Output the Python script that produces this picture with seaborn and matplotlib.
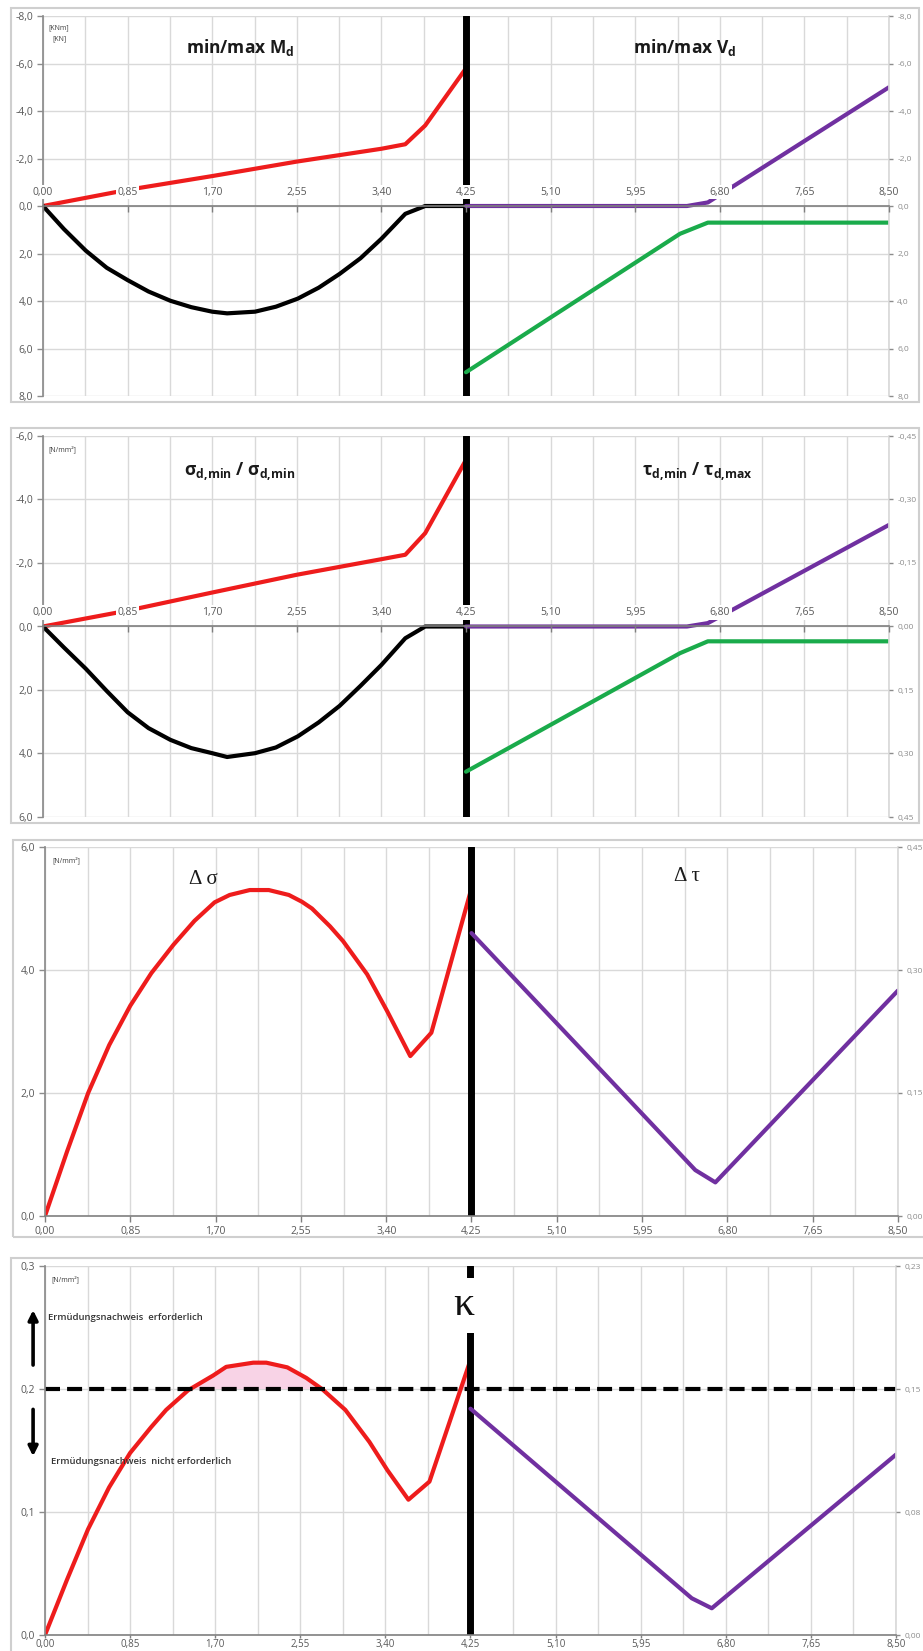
import matplotlib
matplotlib.use("Agg")
import matplotlib.pyplot as plt
import seaborn as sns
import numpy as np
from matplotlib.ticker import FixedLocator, FuncFormatter, MultipleLocator
from matplotlib.patches import Rectangle

sns.set_theme(style="white")
plt.rcParams["font.family"] = ["Open Sans", "DejaVu Sans"]
plt.rcParams["mathtext.default"] = "regular"

# ---------------- data ----------------
x_ticks = [0.00, 0.85, 1.70, 2.55, 3.40, 4.25, 5.10, 5.95, 6.80, 7.65, 8.50]

# Panel 1 : min/max M_d (left) and min/max V_d (right)
x_Mmin = [0.00, 0.85, 1.70, 2.55, 3.40, 3.64, 3.84, 4.25]
M_min = [0.00, -0.68, -1.26, -1.87, -2.41, -2.60, -3.39, -5.80]
x_Mmax = [0.00, 0.21, 0.43, 0.64, 0.85, 1.06, 1.28, 1.49, 1.70, 1.85,
          2.13, 2.34, 2.56, 2.77, 2.98, 3.19, 3.40, 3.64, 3.84, 4.25]
M_max = [0.00, 0.97, 1.88, 2.60, 3.12, 3.60, 3.99, 4.26, 4.45, 4.52,
         4.45, 4.24, 3.90, 3.44, 2.86, 2.20, 1.38, 0.33, 0.00, 0.00]
x_Vmin = [4.25, 6.47, 6.68, 8.50]
V_min = [0.00, 0.00, -0.15, -5.00]
x_Vmax = [4.25, 6.40, 6.68, 8.50]
V_max = [7.00, 1.17, 0.70, 0.70]

# Panel 2 : sigma (left) and tau (right)
x_Smin = [0.00, 0.85, 1.70, 2.55, 3.40, 3.64, 3.84, 4.25]
S_min = [0.00, -0.50, -1.07, -1.63, -2.12, -2.26, -2.94, -5.25]
x_Smax = [0.00, 0.21, 0.43, 0.64, 0.85, 1.06, 1.28, 1.49, 1.70, 1.85,
          2.13, 2.34, 2.56, 2.77, 2.98, 3.19, 3.40, 3.64, 3.84, 4.25]
S_max = [0.00, 0.66, 1.33, 2.03, 2.70, 3.20, 3.57, 3.83, 3.99, 4.11,
         3.99, 3.81, 3.46, 3.02, 2.50, 1.87, 1.21, 0.37, 0.00, 0.00]
x_Tmin = [4.25, 6.47, 6.68, 8.50]
T_min = [0.000, 0.000, -0.008, -0.240]
x_Tmax = [4.25, 6.40, 6.68, 8.50]
T_max = [0.343, 0.063, 0.035, 0.035]

# Panel 3 : delta sigma (left) and delta tau (right)
x_dS = [0.00, 0.22, 0.43, 0.64, 0.85, 1.06, 1.28, 1.49, 1.69, 1.84, 2.04,
        2.23, 2.43, 2.56, 2.66, 2.84, 2.97, 3.21, 3.41, 3.64, 3.85, 4.25]
dS = [0.00, 1.05, 2.00, 2.78, 3.42, 3.95, 4.41, 4.80, 5.10, 5.22, 5.30,
      5.30, 5.22, 5.11, 5.00, 4.71, 4.47, 3.93, 3.33, 2.60, 2.98, 5.33]
x_dT = [4.25, 6.48, 6.68, 8.50]
dT = [0.345, 0.056, 0.041, 0.275]

# Panel 4 : kappa (left) and kappa tau (right)
x_K = [0.00, 0.22, 0.43, 0.64, 0.85, 1.06, 1.21, 1.43, 1.68, 1.81, 2.08,
       2.21, 2.42, 2.61, 2.77, 3.00, 3.24, 3.42, 3.63, 3.84, 4.25]
K = [0.000, 0.045, 0.086, 0.120, 0.148, 0.169, 0.183, 0.199, 0.211, 0.218,
     0.2214, 0.2214, 0.2176, 0.209, 0.1998, 0.183, 0.157, 0.134, 0.110, 0.1247, 0.2236]
x_KT = [4.25, 6.46, 6.66, 8.50]
KT = [0.138, 0.0224, 0.0163, 0.110]
K_limit = 0.2

# ---------------- style ----------------
W, H = 923, 1651
RED = "#ee1c1c"
BLACK = "#000000"
PURPLE = "#7030a0"
GREEN = "#1aab4b"
GRID = "#d9d9d9"
AXC = "#8c8c8c"
LW = 3.0

fig = plt.figure(figsize=(W / 100, H / 100), dpi=100)
fig.patch.set_facecolor("white")


def px_rect(l, t, r, b):
    return [l / W, 1 - b / H, (r - l) / W, (b - t) / H]


def comma(fmt):
    return FuncFormatter(lambda v, p: fmt.format(v + 1e-9).replace(".", ","))


def frame(l, t, r, b):
    fig.add_artist(Rectangle((l / W, 1 - b / H), (r - l) / W, (b - t) / H,
                             transform=fig.transFigure, fill=False,
                             edgecolor="#cfcfcf", lw=1.5))


def make_panel(rect, ylim_l, yt_l, fmt_l, ylim_r, yt_r, fmt_r, zero_axis,
               xpad=3, xlen=4):
    ax = fig.add_axes(rect)
    ax2 = ax.twinx()
    ax.set_facecolor("white")
    ax.set_xlim(0, 8.5)
    ax.set_ylim(*ylim_l)
    ax2.set_ylim(*ylim_r)
    ax.xaxis.set_major_locator(FixedLocator(x_ticks))
    ax.xaxis.set_minor_locator(MultipleLocator(0.425))
    ax.xaxis.set_major_formatter(comma("{:.2f}"))
    ax.yaxis.set_major_locator(FixedLocator(yt_l))
    ax.yaxis.set_major_formatter(comma(fmt_l))
    ax2.yaxis.set_major_locator(FixedLocator(yt_r))
    ax2.yaxis.set_major_formatter(comma(fmt_r))
    ax.set_axisbelow(True)
    ax.grid(True, which="major", color=GRID, lw=1.0)
    ax.grid(True, which="minor", axis="x", color=GRID, lw=1.0)
    ax2.grid(False)
    ax2.set_axisbelow(False)
    for s in ax.spines.values():
        s.set_visible(False)
    for s in ax2.spines.values():
        s.set_visible(False)
    ax.spines["left"].set_visible(True)
    ax.spines["left"].set_color(AXC)
    ax2.spines["right"].set_visible(True)
    ax2.spines["right"].set_color(GRID)
    ax.tick_params(axis="x", which="both", bottom=False, top=False,
                   labelbottom=False, labeltop=False)
    ax.tick_params(axis="y", left=True, right=False, length=4, width=1,
                   color=AXC, labelsize=7.5, labelcolor="#595959", pad=3)
    ax2.tick_params(axis="y", right=True, left=False, length=3, width=1,
                    color=AXC, labelsize=6, labelcolor="#8c8c8c", pad=3)
    ax2.xaxis.set_visible(True)
    if zero_axis:
        sp = ax2.spines["top"]
        sp.set_visible(True)
        sp.set_position(("data", 0))
        sp.set_color("#7f7f7f")
        sp.set_linewidth(1.2)
        ax2.tick_params(axis="x", which="major", top=True, bottom=False,
                        labeltop=True, labelbottom=False, direction="in",
                        length=4, width=1, color="#7f7f7f", labelsize=7.5,
                        labelcolor="#595959", pad=6)
    else:
        sp = ax2.spines["bottom"]
        sp.set_visible(True)
        sp.set_color("#7f7f7f")
        sp.set_linewidth(1.2)
        ax2.tick_params(axis="x", which="major", bottom=True, top=False,
                        labelbottom=True, labeltop=False, direction="out",
                        length=xlen, width=1, color="#7f7f7f", labelsize=7.5,
                        labelcolor="#595959", pad=xpad)
    ax2.tick_params(axis="x", which="minor", length=0, top=False, bottom=False)
    for lab in ax2.get_xticklabels():
        lab.set_bbox(dict(facecolor="white", edgecolor="none", pad=1.2))
    ax.axvline(4.25, color="black", lw=5, zorder=3)
    return ax, ax2


def line(ax, x, y, color):
    sns.lineplot(x=x, y=y, ax=ax, color=color, lw=LW, sort=False,
                 estimator=None, solid_joinstyle="round",
                 solid_capstyle="round")


TITLE = dict(fontsize=12.5, fontweight="bold", ha="center", va="center",
             color="#1a1a1a")
UNIT = dict(fontsize=5, ha="center", va="top", color="#404040")

# ---------------- panel 1 ----------------
frame(11, 8, 919, 402)
ax, ax2 = make_panel(px_rect(43, 16, 889, 396), (8, -8), [-8, -6, -4, -2, 0, 2, 4, 6, 8],
                     "{:.1f}", (8, -8), [-8, -6, -4, -2, 0, 2, 4, 6, 8], "{:.1f}", True)
line(ax, x_Mmin, M_min, RED)
line(ax, x_Mmax, M_max, BLACK)
line(ax2, x_Vmin, V_min, PURPLE)
line(ax2, x_Vmax, V_max, GREEN)
ax.text(0.233, 0.916, r"min/max M$_{d}$", transform=ax.transAxes, **TITLE)
ax.text(0.758, 0.918, r"min/max V$_{d}$", transform=ax.transAxes, **TITLE)
ax.text(0.019, 0.979, "[KNm]\n[KN]", transform=ax.transAxes, linespacing=1.9, **UNIT)

# ---------------- panel 2 ----------------
frame(11, 428, 919, 823)
ax, ax2 = make_panel(px_rect(43, 436, 889, 817), (6, -6), [-6, -4, -2, 0, 2, 4, 6],
                     "{:.1f}", (0.45, -0.45), [-0.45, -0.30, -0.15, 0, 0.15, 0.30, 0.45],
                     "{:.2f}", True)
line(ax, x_Smin, S_min, RED)
line(ax, x_Smax, S_max, BLACK)
line(ax2, x_Tmin, T_min, PURPLE)
line(ax2, x_Tmax, T_max, GREEN)
ax.text(0.232, 0.906, r"σ$_{d,\!min}$ / σ$_{d,\!min}$", transform=ax.transAxes, **TITLE)
ax.text(0.773, 0.906, r"τ$_{d,\!min}$ / τ$_{d,\!max}$", transform=ax.transAxes, **TITLE)
ax.text(0.0225, 0.975, "[N/mm²]", transform=ax.transAxes, **UNIT)

# ---------------- panel 3 ----------------
frame(13, 840, 925, 1237)
ax, ax2 = make_panel(px_rect(45, 847, 898, 1216), (0, 6), [0, 2, 4, 6], "{:.1f}",
                     (0, 0.45), [0, 0.15, 0.30, 0.45], "{:.2f}", False)
line(ax, x_dS, dS, RED)
line(ax2, x_dT, dT, PURPLE)
SERIF = dict(fontsize=15, ha="center", va="center", color="#1a1a1a",
             family=["Liberation Serif", "DejaVu Serif"])
ax.text(0.186, 0.911, "Δ σ", transform=ax.transAxes, **SERIF)
ax.text(0.753, 0.920, "Δ τ", transform=ax.transAxes, **SERIF)
ax.text(0.0246, 0.975, "[N/mm²]", transform=ax.transAxes, **UNIT)

# ---------------- panel 4 ----------------
frame(11, 1258, 925, 1665)
ax, ax2 = make_panel(px_rect(45, 1266, 896, 1635), (0, 0.3), [0, 0.1, 0.2, 0.3], "{:.1f}",
                     (0, 0.225), [0, 0.075, 0.15, 0.225], "{:.2f}", False,
                     xpad=0.5, xlen=2.5)
for lab in ax2.get_xticklabels():
    lab.set_fontsize(7)
    lab.set_bbox(None)
Ka = np.array(K)
ax.fill_between(x_K, K_limit, Ka, where=Ka > K_limit, interpolate=True,
                color="#f8d3e6", lw=0, zorder=1.5)
line(ax, x_K, K, RED)
line(ax2, x_KT, KT, PURPLE)
ax.axhline(K_limit, color="black", lw=3, dashes=(3.6, 1.7), zorder=2.5)
ax.text(0.492, 0.894, "κ", transform=ax.transAxes, fontsize=30, ha="center",
        va="center", family=["Liberation Serif", "DejaVu Serif"], color="#111111",
        zorder=6, bbox=dict(facecolor="white", edgecolor="none", pad=6))
ax.text(0.0235, 0.975, "[N/mm²]", transform=ax.transAxes, **UNIT)
ax.annotate("", xy=(-0.014, 0.888), xytext=(-0.014, 0.724), xycoords="axes fraction",
            arrowprops=dict(arrowstyle="-|>", color="black", lw=2.6, mutation_scale=14),
            annotation_clip=False)
ax.annotate("", xy=(-0.014, 0.477), xytext=(-0.014, 0.619), xycoords="axes fraction",
            arrowprops=dict(arrowstyle="-|>", color="black", lw=2.6, mutation_scale=14),
            annotation_clip=False)
NOTE = dict(fontsize=6.8, ha="left", va="center", color="#333333", fontweight="semibold")
ax.text(0.0035, 0.860, "Ermüdungsnachweis  erforderlich", transform=ax.transAxes, **NOTE)
ax.text(0.0067, 0.470, "Ermüdungsnachweis  nicht erforderlich", transform=ax.transAxes, **NOTE)

fig.savefig("out.png", dpi=100, facecolor="white")
